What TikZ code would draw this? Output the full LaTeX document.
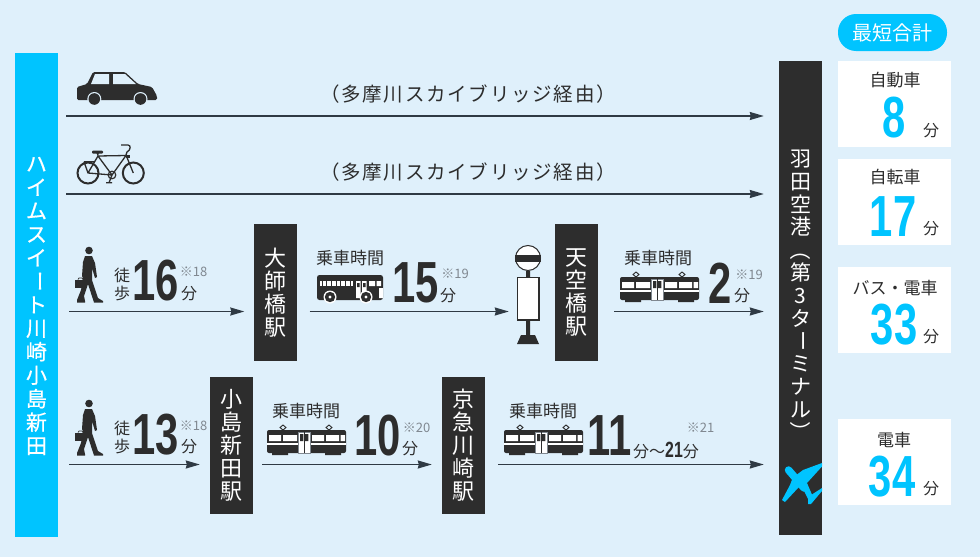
\documentclass[tikz,border=0pt]{standalone}
\usepackage{fontspec}
\setmainfont{Noto Sans CJK JP}
\newfontfamily\numfont[FakeStretch=0.72]{Liberation Sans}
\usetikzlibrary{arrows.meta,positioning}
\definecolor{bg}{HTML}{DFF0FB}
\definecolor{cyanbar}{HTML}{00C4FF}
\definecolor{dark}{HTML}{2D2D2D}
\definecolor{line}{HTML}{2F3A44}
\definecolor{muted}{HTML}{808890}
\newcommand{\fs}[1]{\fontsize{#1}{#1}\selectfont}
\newcommand{\vturn}[1]{\makebox[1em]{\smash{\raisebox{.88em}{\rotatebox{-90}{#1}}}}}
\tikzset{
  arr/.style={draw=line, line width=1.4pt, -{Stealth[length=14pt,width=8pt,inset=1pt]}},
  barl/.style={fill=cyanbar, inner sep=0pt, minimum width=43pt, minimum height=484pt},
  barr/.style={fill=dark, inner sep=0pt, minimum width=43pt, minimum height=474pt},
  vtxt/.style={text=white, inner sep=0pt, align=center},
  stn/.style={fill=dark, inner sep=0pt, minimum width=43pt, minimum height=137pt, text=white, align=center, font=\fontsize{22}{23}\selectfont},
  num/.style={text=dark, inner sep=0pt, font=\numfont\bfseries\fontsize{58}{58}\selectfont},
  numc/.style={text=cyanbar, inner sep=0pt, font=\numfont\bfseries\fontsize{58}{58}\selectfont},
  unit/.style={text=dark, inner sep=0pt, font=\fs{16}},
  lab/.style={text=dark, inner sep=0pt, font=\fs{17}},
  note/.style={text=muted, inner sep=0pt, font=\fs{13}},
  ride/.style={text=dark, inner sep=0pt, font=\fs{17}},
  via/.style={text=dark, inner sep=0pt, font=\fs{19.5}\addfontfeature{LetterSpace=9}},
  res/.style={fill=white, inner sep=0pt, minimum width=113pt, minimum height=86pt},
  walker/.pic={
    \fill[dark] (1,-24.5) circle (3.8);
    \fill[dark, line join=round] (-3,-19) -- (4,-19) -- (7,-12) -- (9,2) -- (7,3) -- (4,-7) -- (4,5) -- (10,23) -- (15,26) -- (15,27.5) -- (6,27.5) -- (0,9) -- (-4,21) -- (-3,26) -- (-3,27.5) -- (-11,27.5) -- (-11,25) -- (-7,15) -- (-5,3) -- (-6,1) -- (-5,-13) -- cycle;
    \fill[dark] (-13,4.5) rectangle (-4,13);
    \draw[dark, line width=0.7pt] (-10,4.5) -- (-9,3) -- (-6,3) -- (-5,4.5);
  },
  tram/.pic={
    \fill[dark, rounded corners=2pt] (0,0) rectangle (79,23);
    \fill[dark] (5,23) rectangle (21,25) (58,23) rectangle (74,25);
    \draw[dark, line width=0.9pt] (16,0) -- (13,-2.5) -- (16,-5) -- (19,-2.5) -- cycle (62,0) -- (59,-2.5) -- (62,-5) -- (65,-2.5) -- cycle;
    \fill[white] (2,5) rectangle (14,11) (16,5) rectangle (30,11) (45,5) rectangle (57,11) (59,5) rectangle (72,11) (73.5,5) rectangle (78,11);
    \fill[white] (0,13) rectangle (79,15);
    \fill[white, draw=muted, line width=0.5pt] (31,2) rectangle (43,23);
    \fill[dark] (33,4) rectangle (36.3,11) (38,4) rectangle (41.3,11);
    \draw[dark, line width=0.6pt] (37,2) -- (37,23);
  },
  coach/.pic={
    \fill[dark, rounded corners=2.5pt] (0,0) rectangle (66,25);
    \fill[white] (3,6) rectangle (36,11);
    \draw[dark, line width=5pt, dash pattern=on 0.7pt off 4pt] (4.5,8.5) -- (36,8.5);
    \fill[white] (39,6) rectangle (43.5,23) (45,6) rectangle (49.5,23) (52,6) rectangle (58,11) (59.5,6) rectangle (64,11) (62,13) rectangle (66,23);
    \fill[dark] (40,8) rectangle (42.5,12) (46,8) rectangle (48.5,12);
    \fill[white] (13,22) circle (6.5) (49,22) circle (6.5);
    \fill[dark] (13,22) circle (5.2) (49,22) circle (5.2);
    \fill[white] (13,22) circle (1.6) (49,22) circle (1.6);
  },
}
\begin{document}
\begin{tikzpicture}[x=1pt,y=-1pt]
\useasboundingbox (0,0) rectangle (980,557);
\fill[bg] (0,0) rectangle (980,557);

% bars and stations
\node[barl] (home) at (36.5,295) {};
\node[vtxt, font=\fontsize{21}{23.5}\selectfont\addfontfeature{FakeBold=0.5}] (hometxt) at (36.5,306) {ハ\\イ\\ム\\ス\\イ\\\vturn{ー}\\ト\\川\\崎\\小\\島\\新\\田};
\node[barr] (air) at (800.5,298) {};
\node[vtxt, font=\fontsize{21}{22.8}\selectfont] (airtxt) at (800.5,295) {羽\\田\\空\\港\\\vturn{（}\\第\\3\\タ\\\vturn{ー}\\ミ\\ナ\\ル\\\vturn{）}};
\node[stn] (daishi) at (275,292.5) {大\\師\\橋\\駅};
\node[stn] (tenku) at (576.5,292.5) {天\\空\\橋\\駅};
\node[stn] (kojima) at (231.5,445.5) {小\\島\\新\\田\\駅};
\node[stn] (keikyu) at (463.5,445.5) {京\\急\\川\\崎\\駅};

% arrows
\coordinate (carline) at (66,116);
\coordinate (bikeline) at (66,194);
\coordinate (walkup) at (69,311.5);
\coordinate (walkdn) at (69,464.5);
\draw[arr] (carline) -- ([xshift=-15pt]air.west |- carline);
\draw[arr] (bikeline) -- ([xshift=-15pt]air.west |- bikeline);
\draw[arr] (walkup) -- ([xshift=-9pt]daishi.west |- walkup);
\draw[arr] ([xshift=13pt]daishi.east |- walkup) -- ([xshift=-46pt]tenku.west |- walkup);
\draw[arr] ([xshift=16pt]tenku.east |- walkup) -- ([xshift=-15pt]air.west |- walkup);
\draw[arr] (walkdn) -- ([xshift=-10pt]kojima.west |- walkdn);
\draw[arr] ([xshift=9pt]kojima.east |- walkdn) -- ([xshift=-10pt]keikyu.west |- walkdn);
\draw[arr] ([xshift=13pt]keikyu.east |- walkdn) -- ([xshift=-15pt]air.west |- walkdn);

\node[via] (viacar) at (468,94) {（多摩川スカイブリッジ経由）};
\node[via] (viabike) at (468,172) {（多摩川スカイブリッジ経由）};

% car
\fill[dark, rounded corners=1.5pt] (77,100) -- (77,87) -- (87,84) -- (93,72) -- (125,72) -- (138,84) -- (152,87) -- (157,96) -- (157,100) -- cycle;
\fill[bg] (91,84) -- (95,74) -- (109,74) -- (109,84) -- cycle (113,74) -- (125,74) -- (136,84) -- (113,84) -- cycle;
\fill[bg] (94.3,99) circle (7) (140.5,99) circle (7);
\fill[dark] (94.3,99) circle (5.8) (140.5,99) circle (5.8);

% bicycle
\draw[dark, line width=2pt] (88,173) circle (10.5) (133.3,173) circle (10.5);
\draw[dark, line width=1.3pt, line join=round] (88,173) -- (98,156) -- (112,175) -- cycle (98,156) -- (126,155.5) -- (112,175) (126,155) -- (133.3,173) (84,161.7) -- (95,161.7) (84,161.7) -- (88,173) (112,175) -- (109,182.7) (106,182.7) -- (112,182.7);
\draw[dark, line width=1.2pt] (112,175) circle (3.8);
\draw[dark, line width=1.3pt] (126,155) -- (127,152) .. controls (131,150) and (131,145) .. (128,145) -- (121,145);
\fill[dark] (126,155) rectangle (130,158);
\fill[dark, rounded corners=1pt] (92,150.5) rectangle (103,153.5);
\fill[dark] (96,152) -- (99,152) -- (98,157) -- cycle;

% row 3
\pic at (88,275) {walker};
\node[unit] (walkA1) at (122,275) {徒};
\node[unit] (walkA2) at (122,293) {歩};
\node[num] (t16) at (155.5,281) {16};
\node[note] (n18a) at (193.5,272) {※18};
\node[unit] (u16) at (189,294) {分};
\node[ride] (rideA) at (350,258) {乗車時間};
\pic at (317,275) {coach};
\node[num] (t15) at (416,283) {15};
\node[note] (n19a) at (455,274) {※19};
\node[unit] (u15) at (448,296) {分};
% bus stop
\fill[white, draw=dark, line width=1pt] (528,258) circle (12.5);
\fill[dark] (515,254.5) rectangle (541,261.5);
\fill[dark] (526,271) rectangle (530,277) (526,320) rectangle (530,336);
\fill[white, draw=dark, line width=1.2pt] (517.5,277.5) rectangle (539,320);
\fill[dark] (521,335) -- (535,335) -- (539,344) -- (517,344) -- cycle;
\node[ride] (rideB) at (658,258) {乗車時間};
\pic at (620,277) {tram};
\node[num] (t2) at (720,283) {2};
\node[note] (n19b) at (749,275) {※19};
\node[unit] (u2) at (742,296) {分};

% row 4
\pic at (88,428) {walker};
\node[unit] (walkB1) at (122,428) {徒};
\node[unit] (walkB2) at (122,446) {歩};
\node[num] (t13) at (155.5,435) {13};
\node[note] (n18b) at (193.5,425.5) {※18};
\node[unit] (u13) at (189,447) {分};
\node[ride] (rideC) at (306,411) {乗車時間};
\pic at (267,430) {tram};
\node[num] (t10) at (377.5,436) {10};
\node[note] (n20) at (416.5,428) {※20};
\node[unit] (u10) at (410,449) {分};
\node[ride] (rideD) at (543,411) {乗車時間};
\pic at (504,430) {tram};
\node[num] (t11) at (610,436) {11};
\node[unit, anchor=west] (u11) at (633,450) {分～{\numfont\bfseries\fontsize{22}{22}\selectfont 21}分};
\node[note] (n21) at (700.5,428) {※21};

% plane
\draw[cyanbar, line width=7.5pt, line cap=round] (788.5,470) -- (804,488);
\fill[cyanbar] (801,485) -- (807,483) -- (813,497) -- (812,503) -- (808,499) -- cycle;
\fill[cyanbar] (795,476) -- (803,470) -- (822,463) -- (822,466.5) -- (807,483) -- (802,488) -- cycle;
\fill[cyanbar] (793,477) -- (790,485) -- (782,500) -- (785,502) -- (798,488) -- (803,484) -- cycle;
\fill[cyanbar] (808,497) -- (822,488) -- (822,491) -- (811,504) -- (808,504) -- cycle;

% totals
\node[fill=cyanbar, rounded corners=18pt, minimum width=109pt, minimum height=37pt, inner sep=0pt, text=white, font=\fs{20}] (head) at (892.5,32.5) {最短合計};
\node[res] (boxcar) at (894.5,104) {};
\node[res] (boxbike) at (894.5,202) {};
\node[res] (boxbus) at (894.5,310) {};
\node[res] (boxrail) at (894.5,462) {};
\node[lab] (lcar) at (895,80) {自動車};
\node[numc] (vcar) at (894,118) {8};
\node[unit] (ucar) at (931,131) {分};
\node[lab] (lbike) at (895,177) {自転車};
\node[numc] (vbike) at (893,217) {17};
\node[unit] (ubike) at (931,229) {分};
\node[lab] (lbus) at (895,288) {バス・電車};
\node[numc] (vbus) at (894,325) {33};
\node[unit] (ubus) at (931,337) {分};
\node[lab] (lrail) at (894,440) {電車};
\node[numc] (vrail) at (892,477) {34};
\node[unit] (urail) at (931,489) {分};
\end{tikzpicture}
\end{document}
